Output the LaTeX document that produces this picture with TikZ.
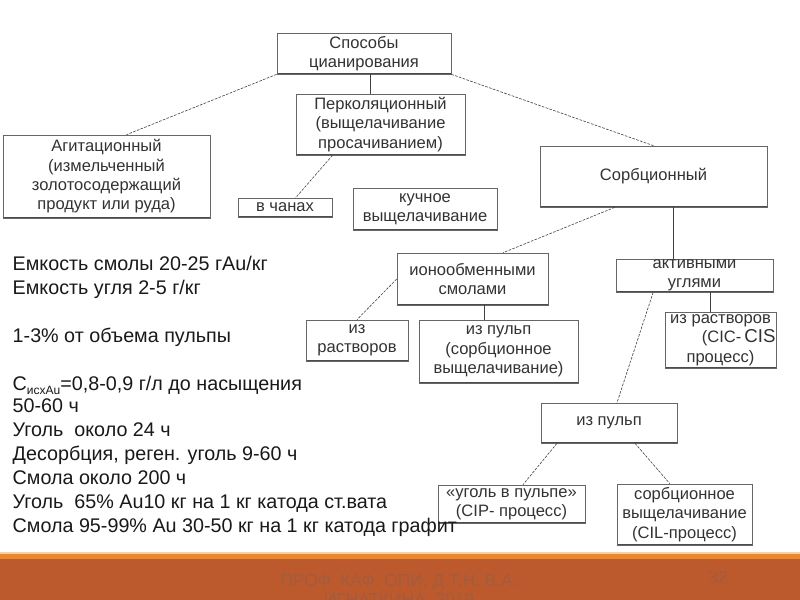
\documentclass[tikz,border=0pt]{standalone}
\usepackage{fontspec}
\setmainfont{Liberation Sans}
\usepackage{tikz}
\usetikzlibrary{calc}

\definecolor{bandorange}{RGB}{189,90,45}
\definecolor{stripeorange}{RGB}{232,137,43}
\definecolor{footgray}{RGB}{163,92,62}

\begin{document}
\begin{tikzpicture}[x=0.75pt,y=-0.75pt,
		box/.style={draw=black!60,line width=0.5pt,inner sep=0pt,align=center,
			text=black!80,font=\fontsize{12.4}{14.5}\selectfont,
			path picture={\draw[black!70,line width=1.4pt] (path picture bounding box.south west) -- (path picture bounding box.south east);}},
		link/.style={black!75,line width=0.45pt,dash pattern=on 2pt off 1pt},
		stem/.style={black!75,line width=0.5pt}]
				\useasboundingbox (0,0) rectangle (800,600);
				\fill[white] (0,0) rectangle (800,600);
				
				% footer band
				\fill[stripeorange!40] (0,552) rectangle (800,554);
				\fill[stripeorange] (0,554) rectangle (800,559);
				\fill[bandorange] (0,559) rectangle (800,600);
				\node[align=center,text=footgray,font=\fontsize{13}{14.25}\selectfont,anchor=north] (author) at (399,570) {ПРОФ. КАФ. ОПИ, Д.Т.Н. В.А.\\ИГНАТКИНА, 2019};
				\node[text=footgray,font=\fontsize{13}{14.25}\selectfont] (page) at (718,578) {32};
				
				% boxes
				\node[box,minimum width=130.5pt,minimum height=30.75pt] (sposoby) at (364,53.5) {Способы\\цианирования};
				\node[box,minimum width=126.75pt,minimum height=45.75pt] (perkol) at (380.5,124.5) {Перколяционный\\(выщелачивание\\просачиванием)};
				\node[box,minimum width=155.25pt,minimum height=62.25pt] (agit) at (106.5,176.5) {Агитационный\\(измельченный\\золотосодержащий\\продукт или руда)};
				\node[box,minimum width=70.5pt,minimum height=14.25pt] (chany) at (285,207.5) {в чанах};
				\node[box,minimum width=108pt,minimum height=31.5pt] (kuchn) at (425,209) {кучное\\выщелачивание};
				\node[box,minimum width=170.25pt,minimum height=45.75pt] (sorb) at (653.5,176.5) {Сорбционный};
				\node[box,minimum width=113.25pt,minimum height=39pt] (ionoobm) at (472.5,279) {ионообменными\\смолами};
				\node[box,minimum width=117.75pt,minimum height=24.75pt] (aktiv) at (694.5,275.5) {активными\\углями};
				\node[box,minimum width=76.5pt,minimum height=30.75pt] (rastv1) at (357,340.5) {из\\растворов};
				\node[box,minimum width=119.25pt,minimum height=47.25pt] (pulp1) at (498.5,351.5) {из пульп\\(сорбционное\\выщелачивание)};
				\node[box,minimum width=83.25pt,minimum height=42pt] (rastv2) at (720.5,340) {из растворов\\\hspace*{2.2em}(CIC-{\fontsize{14}{14.5}\selectfont\,CIS}\\процесс)};
				\node[box,minimum width=102pt,minimum height=30pt] (pulp2) at (609,423) {из пульп};
				\node[box,minimum width=110.25pt,minimum height=28.5pt] (cip) at (511.5,504) {«уголь в пульпе»\\(CIP- процесс)};
				\node[box,minimum width=101.25pt,minimum height=45.75pt] (cil) at (684.5,514.5) {сорбционное\\выщелачивание\\(CIL-процесс)};
				
				% connectors
				\draw[link] (sposoby.south west) -- ([xshift=15pt]agit.north);
				\draw[link] (sposoby.south east) -- (sorb.north);
				\draw[stem] ([xshift=4.5pt]sposoby.south) -- ([xshift=4.5pt]sposoby.south |- perkol.north);
				\draw[link] ([xshift=-36pt]perkol.south) -- ([xshift=8pt]chany.north);
				\draw[link] ([xshift=-29pt]sorb.south) -- ([xshift=23pt]ionoobm.north);
				\draw[stem] ([xshift=14.6pt]sorb.south) -- ([xshift=14.6pt]sorb.south |- aktiv.north);
				\draw[link] (ionoobm.west) -- (rastv1.north);
				\draw[stem] ([xshift=8.6pt]ionoobm.south) -- ([xshift=8.6pt]ionoobm.south |- pulp1.north);
				\draw[stem] ([xshift=11.6pt]aktiv.south) -- ([xshift=11.6pt]aktiv.south |- rastv2.north);
				\draw[link] ([xshift=-31pt]aktiv.south) -- ([xshift=6pt]pulp2.north);
				\draw[link] ([xshift=-39pt]pulp2.south) -- ([xshift=8.6pt]cip.north);
				\draw[link] ([xshift=19.5pt]pulp2.south) -- ([xshift=-11pt]cil.north);
				
				% notes on the left
				\node[anchor=north west,align=left,text=black!90,font=\fontsize{14.8}{18}\selectfont] (notes) at (8,251) {Емкость смолы 20-25 гAu/кг\\
					Емкость угля 2-5 г/кг\\[18pt]
					1-3\% от объема пульпы\\[18pt]
					C\raisebox{-0.45ex}{\fontsize{9}{9}\selectfont исхAu}=0,8-0,9 г/л до насыщения\\[-1.5pt]
					50-60 ч\\
					Уголь\ \ около 24 ч\\
					Десорбция, реген. уголь 9-60 ч\\
					Смола около 200 ч\\
					Уголь\ \ 65\% Au10 кг на 1 кг катода ст.вата\\
					Смола 95-99\% Au 30-50 кг на 1 кг катода графит};
			\end{tikzpicture}
\end{document}
